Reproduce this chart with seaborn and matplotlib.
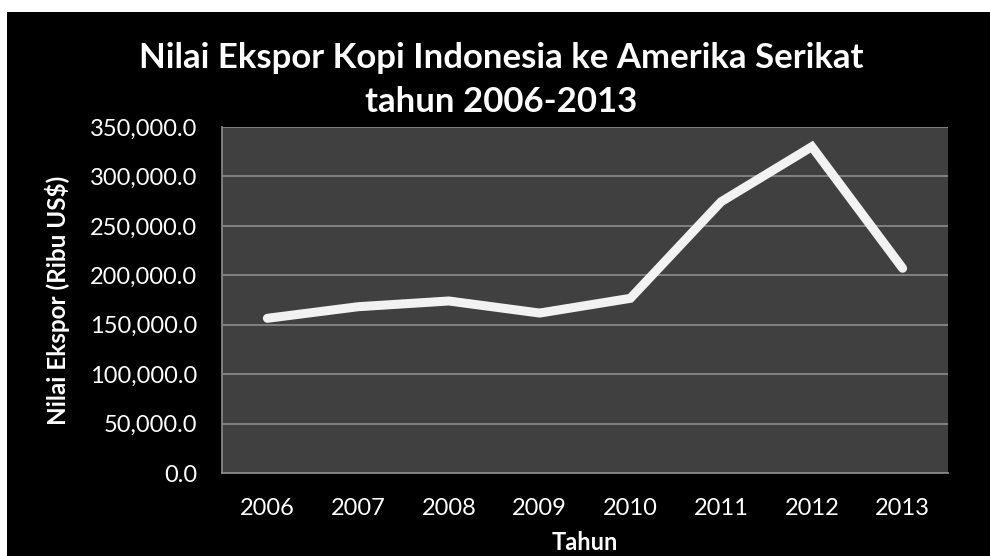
import matplotlib
matplotlib.use("Agg")
import matplotlib.pyplot as plt
from matplotlib.patches import Rectangle
from matplotlib.ticker import FuncFormatter, MultipleLocator
import seaborn as sns
import pandas as pd

# Export value of Indonesian coffee to the USA (thousand US$)
tahun = ["2006", "2007", "2008", "2009", "2010", "2011", "2012", "2013"]
nilai_ekspor = [156500, 168200, 174000, 161800, 176700, 274400, 330100, 207100]

judul = "Nilai Ekspor Kopi Indonesia ke Amerika Serikat\ntahun 2006-2013"
label_x = "Tahun"
label_y = "Nilai Ekspor (Ribu US$)"

df = pd.DataFrame({"Tahun": tahun, "Nilai": nilai_ekspor})

sns.set_theme(style="dark")
plt.rcParams["font.family"] = ["Lato", "DejaVu Sans"]

fig = plt.figure(figsize=(9.9, 5.56), dpi=100, facecolor="white")
# black chart area with a thin white strip on top and left
fig.patches.append(Rectangle((7 / 990, 0), 1.0, 1 - 12 / 556,
                             transform=fig.transFigure, facecolor="black",
                             edgecolor="none", zorder=-10))

ax = fig.add_axes([222 / 990, 1 - 473 / 556, (948 - 222) / 990, (473 - 127) / 556])
ax.set_facecolor("#404040")

sns.lineplot(data=df, x="Tahun", y="Nilai", ax=ax, color="#f2f2f2",
             linewidth=6.5, solid_capstyle="round", solid_joinstyle="miter",
             zorder=3)

ax.set_xlim(-0.5, len(tahun) - 0.5)
ax.set_ylim(0, 350000)
ax.yaxis.set_major_locator(MultipleLocator(50000))
ax.yaxis.set_major_formatter(FuncFormatter(lambda v, p: f"{v:,.1f}"))
ax.grid(axis="y", color="#868686", linewidth=1.3)
ax.grid(axis="x", visible=False)

for side in ["top", "right"]:
    ax.spines[side].set_visible(False)
for side in ["left", "bottom"]:
    ax.spines[side].set_visible(True)
    ax.spines[side].set_color("#868686")
    ax.spines[side].set_linewidth(1.3)

ax.tick_params(axis="both", colors="white", labelsize=17, length=0)
ax.tick_params(axis="y", pad=18)
ax.tick_params(axis="x", pad=18)

ax.set_xlabel(label_x, color="white", fontsize=17, fontweight="bold", labelpad=9)
ax.set_ylabel(label_y, color="white", fontsize=17.5, fontweight="bold", labelpad=14)

fig.text(0.506, 1 - 80 / 556, judul, ha="center", va="center", color="white",
         fontsize=25, fontweight="bold", linespacing=1.45)

fig.savefig("out.png", dpi=100, facecolor="white")
